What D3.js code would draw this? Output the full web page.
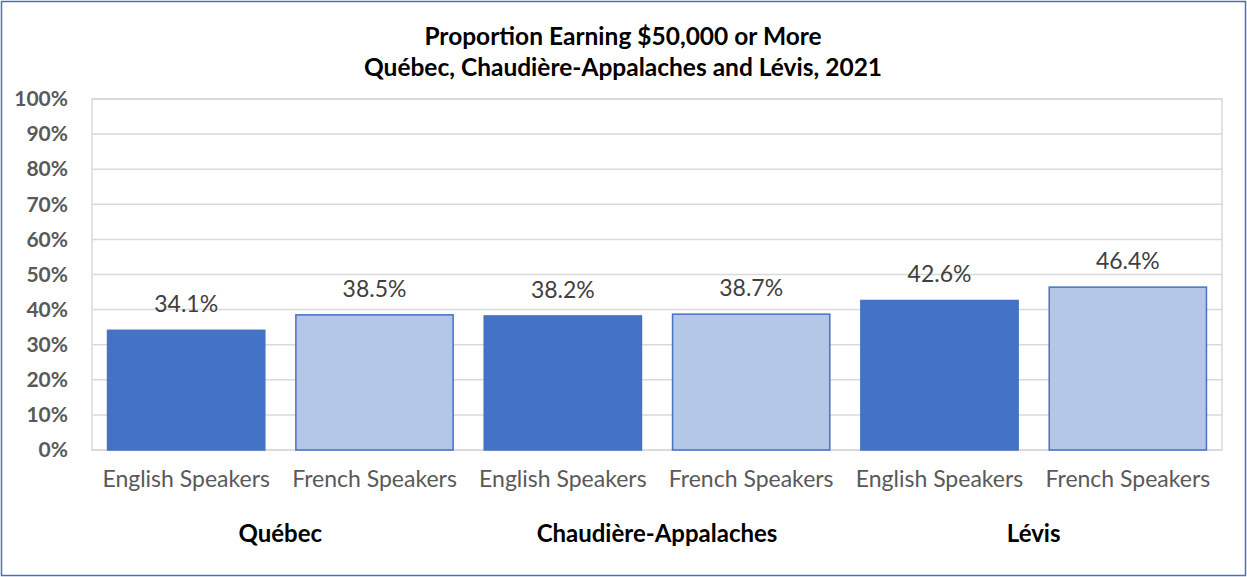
<!DOCTYPE html>
<html>
<head>
<meta charset="utf-8">
<script src="https://cdn.jsdelivr.net/npm/d3@7"></script>
<style>
  html, body { margin: 0; padding: 0; background: #fff; }
  svg { display: block; font-family: Lato, "Open Sans", sans-serif; }
</style>
</head>
<body>
<svg id="grafico" width="1247" height="577"></svg>
<script>
// Dados.
const regioes = ["Québec", "Chaudière-Appalaches", "Lévis"];
const falantes = ["English Speakers", "French Speakers"];
const valores = [34.1, 38.5, 38.2, 38.7, 42.6, 46.4];
const ticksY = [0, 10, 20, 30, 40, 50, 60, 70, 80, 90, 100];
const titulo = ["Proportion Earning $50,000 or More", "Québec, Chaudière-Appalaches and Lévis, 2021"];

// Monta as categorias (região x falante).
const categorias = [];
regioes.forEach(r => falantes.forEach(f => categorias.push({ regiao: r, falante: f })));
categorias.forEach((c, i) => c.valor = valores[i]);

const svg = d3.select("#grafico");
const margem = { esq: 92, dir: 1222, topo: 99, base: 450 };

// Moldura azul externa.
svg.append("rect")
    .attr("x", 1.5).attr("y", 1.5)
    .attr("width", 1244).attr("height", 574)
    .attr("fill", "#fff")
    .attr("stroke", "#4472C4")
    .attr("stroke-width", 1.5);

var x = d3.scaleBand()
    .domain(d3.range(categorias.length))
    .range([margem.esq, margem.dir])
    .paddingInner(0.165)
    .paddingOuter(0.0825);

var xRegiao = d3.scaleBand()
    .domain(regioes)
    .range([margem.esq, margem.dir]);

var y = d3.scaleLinear()
    .domain([0, 100])
    .range([margem.base, margem.topo]);

// Linhas de grade.
svg.append("g")
    .selectAll("line")
    .data(ticksY)
    .enter()
    .append("line")
    .attr("x1", margem.esq).attr("x2", margem.dir)
    .attr("y1", d => y(d)).attr("y2", d => y(d))
    .attr("stroke", "#D9D9D9")
    .attr("stroke-width", 1.5);

// Borda da área de plotagem.
svg.append("rect")
    .attr("x", margem.esq).attr("y", margem.topo)
    .attr("width", margem.dir - margem.esq).attr("height", margem.base - margem.topo)
    .attr("fill", "none")
    .attr("stroke", "#D9D9D9")
    .attr("stroke-width", 1.5);

// Eixo Y.
var eixoY = svg.append("g")
    .attr("transform", "translate(" + margem.esq + ",0)")
    .call(d3.axisLeft(y).tickValues(ticksY).tickFormat(d => d + "%").tickSize(0).tickPadding(24));
eixoY.select(".domain").remove();
eixoY.selectAll("text")
    .attr("font-family", "Lato, sans-serif")
    .attr("font-size", 21)
    .attr("font-weight", "bold")
    .attr("fill", "#595959");

// Barras.
svg.append("g")
    .selectAll("rect")
    .data(categorias)
    .enter()
    .append("rect")
    .attr("x", (d, i) => x(i))
    .attr("y", d => y(d.valor))
    .attr("width", x.bandwidth())
    .attr("height", d => y(0) - y(d.valor))
    .attr("fill", d => d.falante === "English Speakers" ? "#4472C4" : "#B4C7E7")
    .attr("stroke", "#4472C4")
    .attr("stroke-width", 1.5);

// Rótulos de valores.
svg.append("g")
    .selectAll("text")
    .data(categorias)
    .enter()
    .append("text")
    .attr("x", (d, i) => x(i) + x.bandwidth() / 2)
    .attr("y", d => y(d.valor) - 18)
    .attr("text-anchor", "middle")
    .attr("font-size", 23)
    .attr("fill", "#404040")
    .text(d => d.valor.toFixed(1) + "%");

// Eixo X: falantes.
var eixoX = svg.append("g")
    .attr("transform", "translate(0," + margem.base + ")")
    .call(d3.axisBottom(x).tickFormat(i => categorias[i].falante).tickSize(0).tickPadding(21));
eixoX.select(".domain").remove();
eixoX.selectAll("text")
    .attr("font-family", "Lato, sans-serif")
    .attr("font-size", 23)
    .attr("fill", "#595959");

// Rótulos das regiões.
svg.append("g")
    .selectAll("text")
    .data(regioes)
    .enter()
    .append("text")
    .attr("x", d => xRegiao(d) + xRegiao.bandwidth() / 2)
    .attr("y", 542)
    .attr("text-anchor", "middle")
    .attr("font-size", 24)
    .attr("font-weight", "bold")
    .attr("fill", "#000")
    .text(d => d);

// Título.
svg.append("g")
    .selectAll("text")
    .data(titulo)
    .enter()
    .append("text")
    .attr("x", 623)
    .attr("y", (d, i) => 45 + i * 31)
    .attr("text-anchor", "middle")
    .attr("font-size", 24.5)
    .attr("font-weight", "bold")
    .attr("fill", "#000")
    .text(d => d);
</script>
</body>
</html>
